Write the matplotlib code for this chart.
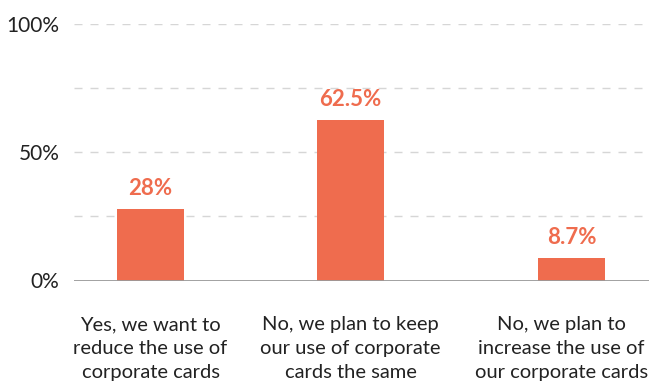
import matplotlib
matplotlib.use("Agg")
import matplotlib.pyplot as plt

categories = ["Yes, we want to\nreduce the use of\ncorporate cards",
              "No, we plan to keep\nour use of corporate\ncards the same",
              "No, we plan to\nincrease the use of\nour corporate cards"]
values = [28, 62.5, 8.7]
value_labels = ["28%", "62.5%", "8.7%"]
positions = [0, 1, 2.105]
yticks = [0, 50, 100]
ytick_labels = ["0%", "50%", "100%"]
grid_levels = [25, 50, 75, 100]

bar_color = "#EF6C4E"
text_color = "#222222"
font = ["Lato", "DejaVu Sans"]

W, H = 657, 385
fig = plt.figure(figsize=(W / 100, H / 100), dpi=100)
ax = fig.add_axes([74 / W, (H - 280.5) / H, (649 - 74) / W, (280.5 - 24) / H])
ax.set_xlim(-0.3825, 2.4925)
ax.set_ylim(0, 100)

for g in grid_levels:
    ax.axhline(g, color="#d6d6d6", lw=1, ls=(0, (5.76, 5.76)), zorder=0)
ax.axhline(0, color="#9a9a9a", lw=1.3, zorder=3)

ax.bar(positions, values, width=0.335, color=bar_color, zorder=2)
for x, v, lab in zip(positions, values, value_labels):
    ax.annotate(lab, (x, v), xytext=(0, 7), textcoords="offset points",
                ha="center", va="bottom", color=bar_color, fontsize=16,
                fontweight="bold", family=font)

for s in ax.spines.values():
    s.set_visible(False)
ax.set_yticks(yticks)
ax.set_yticklabels(ytick_labels, family=font, fontsize=15, color=text_color)
ax.tick_params(axis="y", length=0, pad=10.5)
ax.set_xticks([])

label_x = [0, 1, 2.055]
for x, c in zip(label_x, categories):
    ax.text(x, -14, c, ha="center", va="top", fontsize=14.5, family=font,
            color=text_color, linespacing=1.5, transform=ax.transData,
            clip_on=False)

fig.savefig("out.png", dpi=100)
